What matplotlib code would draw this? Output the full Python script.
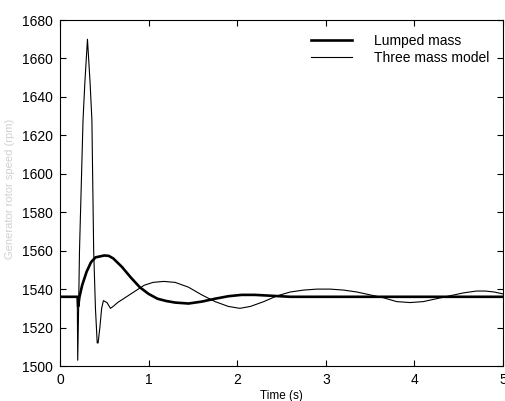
import matplotlib
matplotlib.use("Agg")
import matplotlib.pyplot as plt

plt.rcParams['font.family'] = ['Liberation Sans', 'DejaVu Sans']

# time (s) / speed (rpm)
lumped_t = [0, 0.2, 0.205, 0.22, 0.25, 0.3, 0.35, 0.4, 0.5, 0.55, 0.6, 0.7, 0.8, 0.9,
            1.0, 1.1, 1.2, 1.3, 1.45, 1.6, 1.75, 1.9, 2.05, 2.2, 2.4, 2.6, 3.0, 4.0, 5.0]
lumped_v = [1536, 1536, 1531, 1536, 1542, 1549, 1554, 1556.5, 1557.5, 1557.3, 1556, 1551.5,
            1546, 1541, 1537.5, 1535, 1533.8, 1533, 1532.5, 1533.5, 1535, 1536.3, 1537,
            1537, 1536.5, 1536, 1536, 1536, 1536]

three_t = [0, 0.195, 0.2, 0.21, 0.22, 0.26, 0.28, 0.31, 0.34, 0.36, 0.38, 0.40, 0.42, 0.43,
           0.45, 0.47, 0.49, 0.53, 0.57, 0.60, 0.65, 0.75, 0.85, 0.95, 1.05, 1.17, 1.30,
           1.45, 1.60, 1.75, 1.90, 2.03, 2.15, 2.30, 2.45, 2.60, 2.75, 2.90, 3.05, 3.20,
           3.35, 3.50, 3.65, 3.80, 3.95, 4.10, 4.25, 4.40, 4.55, 4.70, 4.80, 4.90, 5.0]
three_v = [1536, 1536, 1503, 1530, 1560, 1628, 1647, 1670, 1647, 1628, 1560, 1530, 1512,
           1512, 1520, 1530, 1534, 1533, 1530, 1531, 1533, 1536, 1539, 1542, 1543.5, 1544,
           1543.5, 1541, 1537, 1533.5, 1531, 1530, 1531, 1533.5, 1536.5, 1538.5, 1539.5,
           1540, 1540, 1539.5, 1538.5, 1537, 1535.5, 1533.5, 1533, 1533.5, 1535, 1536.5,
           1538, 1539, 1539, 1538.5, 1537.5]

fig = plt.figure(figsize=(5.05, 4.01), dpi=100)
ax = fig.add_axes([60 / 505, 35 / 401, 443 / 505, 346 / 401])

ax.plot(three_t, three_v, color='black', lw=0.8, label='Three mass model')
ax.plot(lumped_t, lumped_v, color='black', lw=1.9, label='Lumped mass')

ax.set_xlim(0, 5)
ax.set_ylim(1500, 1680)
ax.set_xticks(range(0, 6))
ax.set_yticks(range(1500, 1681, 20))
ax.tick_params(direction='in', top=True, right=True, length=4, width=0.8,
               labelsize=10, pad=5)
for s in ax.spines.values():
    s.set_linewidth(0.8)

ax.set_xlabel('Time (s)', fontsize=8.5, labelpad=2)
fig.text(10 / 505, 0.53, 'Generator rotor speed (rpm)', rotation=90, fontsize=8,
         color='#d0d0d0', ha='center', va='center')

handles, labels = ax.get_legend_handles_labels()
ax.legend(handles[::-1], labels[::-1], loc='upper right', frameon=False, fontsize=10,
          handlelength=2.9, handletextpad=1.6, borderaxespad=0.6, labelspacing=0.2)

fig.savefig('out.png', dpi=100)
